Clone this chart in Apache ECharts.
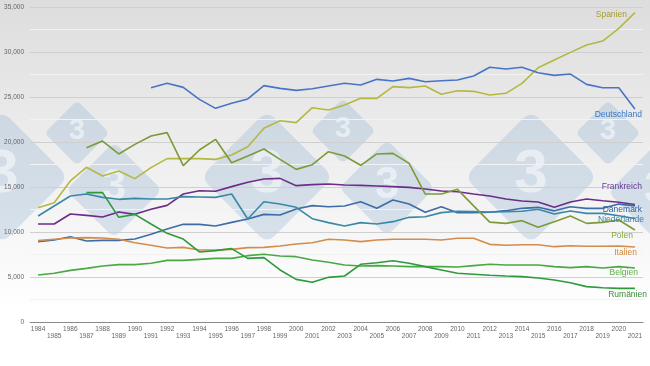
<!DOCTYPE html>
<html>
<head>
<meta charset="utf-8">
<script src="https://cdn.jsdelivr.net/npm/echarts@6/dist/echarts.min.js"></script>
<style>
html,body{margin:0;padding:0;background:#fff;}
#c{width:650px;height:366px;}
</style>
</head>
<body>
<div id="c"></div>
<script>
const years = ['1984','1985','1986','1987','1988','1989','1990','1991','1992','1993','1994','1995','1996','1997','1998','1999','2000','2001','2002','2003','2004','2005','2006','2007','2008','2009','2010','2011','2012','2013','2014','2015','2016','2017','2018','2019','2020','2021'];

const spanien = [12700,13260,15670,17190,16220,16780,15930,17150,18150,18150,18150,18070,18550,19480,21520,22370,22150,23810,23550,24110,24850,24850,26150,26040,26220,25300,25700,25630,25220,25410,26520,28250,29110,29960,30780,31220,32630,34370];
const deutschland = [null,null,null,null,null,null,null,26030,26520,26070,24740,23740,24300,24780,26260,25960,25740,25920,26220,26520,26330,26960,26780,27070,26700,26810,26890,27330,28300,28110,28300,27700,27400,27550,26400,26030,26030,23660];
const frankreich = [10890,10890,12000,11850,11670,12220,11960,12520,12960,14220,14590,14520,15040,15520,15890,15960,15150,15260,15330,15220,15180,15110,15040,14960,14780,14550,14480,14220,14000,13670,13440,13330,12740,13330,13670,13480,13300,13050];
const daenemark = [8930,9110,9480,9000,9070,9070,9220,9740,10330,10850,10850,10670,11070,11440,11960,11890,12560,12930,12810,12890,13370,12630,13560,13110,12190,12810,12150,12150,12190,12370,12630,12740,12350,12810,12630,12630,13100,12900];
const niederlande = [11780,12890,14000,14220,13850,13630,13740,13670,13670,13930,13890,13850,14220,11440,13370,13110,12740,11480,11040,10670,11040,10890,11150,11630,11700,12150,12300,12260,12220,12260,12300,12520,12000,12330,12070,12070,11800,11500];
const polen = [null,null,null,19370,20110,18670,19740,20670,21040,17370,19110,20300,17700,18440,19220,18070,16960,17480,18920,18440,17410,18670,18740,17630,14220,14220,14740,12900,11100,10960,11260,10520,11150,11780,10960,11070,11330,10220];
const italien = [9040,9190,9330,9370,9330,9190,8810,8520,8220,8290,8000,8000,8070,8260,8290,8440,8670,8810,9190,9110,8930,9110,9190,9190,9190,9110,9300,9300,8630,8520,8590,8590,8370,8480,8410,8410,8440,8330];
const belgien = [5220,5410,5740,5960,6220,6370,6370,6520,6850,6850,6960,7070,7070,7370,7520,7330,7260,6890,6630,6330,6220,6260,6220,6150,6150,6150,6110,6260,6410,6330,6330,6330,6150,6040,6150,6000,6150,6000];
const rumaenien = [null,null,null,14370,14370,11630,11960,10890,9850,9220,7780,7930,8150,7070,7150,5780,4740,4410,4960,5110,6410,6590,6810,6520,6150,5780,5410,5300,5190,5110,5040,4890,4670,4370,3930,3810,3740,3740];

const yTicks = [0,5000,10000,15000,20000,25000,30000,35000];

const seriesDefs = [
  {name:'Spanien', data:spanien, color:'#b4b840', text:'#a49c2c', off:[-8,2]},
  {name:'Deutschland', data:deutschland, color:'#4874c6', text:'#3b78c6', off:[7,6]},
  {name:'Frankreich', data:frankreich, color:'#6c2c88', text:'#663a98', off:[7,-18]},
  {name:'Dänemark', data:daenemark, color:'#3e6ca6', text:'#2e5fa0', off:[7,4]},
  {name:'Niederlande', data:niederlande, color:'#3a88a6', text:'#3a7ea6', off:[9,1]},
  {name:'Polen', data:polen, color:'#7e9a38', text:'#80aa38', off:[-2,6]},
  {name:'Italien', data:italien, color:'#d28c4c', text:'#d0883e', off:[2,6]},
  {name:'Belgien', data:belgien, color:'#4aa844', text:'#5aae44', off:[3,5]},
  {name:'Rumänien', data:rumaenien, color:'#2e9a3c', text:'#3a8c3a', off:[12,6]}
];

// decorative watermark (logo diamonds behind the plot)
const logoMarks = [
  [77,133,46],[343,131,46],[608,133,46],
  [114,190,68],[387,188,68],[656,192,68],
  [2,177,94],[267,177,94],[531,177,94]
];
const logoGraphics = [];
logoMarks.forEach(([cx,cy,s])=>{
  logoGraphics.push({
    type:'group', x:cx, y:cy, z:-10, silent:true,
    children:[
      {type:'rect', rotation:Math.PI/4, shape:{x:-s/2,y:-s/2,width:s,height:s,r:s*0.11},
       style:{fill:'rgba(140,174,207,0.3)'}},
      {type:'text', style:{text:'3', x:0, y:-2, fontSize:s*0.64, fontWeight:'bold',
        fontFamily:'Arial, Liberation Sans, sans-serif', fill:'rgba(255,255,255,0.5)',
        align:'center', verticalAlign:'middle'}}
    ]
  });
});

const chart = echarts.init(document.getElementById('c'), null, {renderer:'canvas'});
chart.setOption({
  backgroundColor: new echarts.graphic.LinearGradient(0,0,0,1,[
    {offset:0,color:'#dddddd'},{offset:0.85,color:'#ffffff'},{offset:1,color:'#ffffff'}
  ]),
  animation:false,
  graphic:{elements:logoGraphics},
  grid:{left:30,right:7,top:7,bottom:44,containLabel:false},
  xAxis:{
    type:'category', data:years, boundaryGap:true,
    axisLine:{lineStyle:{color:'#8a8a8a',width:1}},
    axisTick:{show:false},
    axisLabel:{interval:0,fontSize:6.5,lineHeight:7,color:'#666',margin:4,fontFamily:'Arial, Liberation Sans, sans-serif',
      formatter:(v,i)=> i%2===0 ? v : '\n'+v}
  },
  yAxis:{
    type:'value', min:0, max:35000, interval:2500,
    axisLine:{show:false}, axisTick:{show:false},
    axisLabel:{fontSize:6.5,color:'#666',margin:6,fontFamily:'Arial, Liberation Sans, sans-serif',
      formatter:(v)=> yTicks.indexOf(v)>=0 ? v.toLocaleString('en-US') : ''},
    splitLine:{lineStyle:{color:['#cfcfcf','#f2f2f2'],width:1}}
  },
  series: seriesDefs.map(s=>({
    name:s.name, type:'line', data:s.data, showSymbol:false, connectNulls:false,
    lineStyle:{color:s.color,width:1.6}, itemStyle:{color:s.color},
    endLabel:{show:true, formatter:s.name, color:s.text, fontSize:8.5, align:'right', distance:0,
      offset:s.off, fontFamily:'Arial, Liberation Sans, sans-serif'}
  }))
});
</script>
</body>
</html>
